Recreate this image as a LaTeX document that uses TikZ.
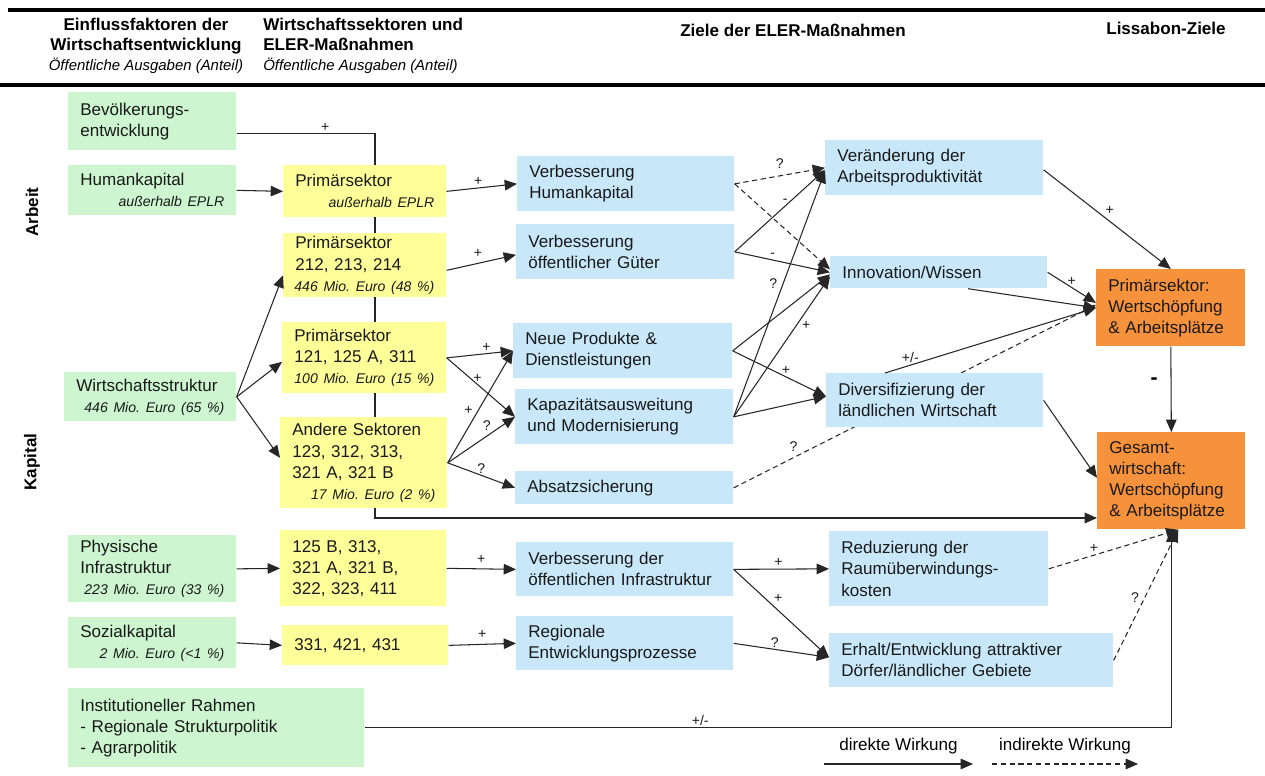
\documentclass[tikz,border=0pt]{standalone}
\usepackage{fontspec}
\setmainfont{Liberation Sans}
\usetikzlibrary{arrows.meta,calc,backgrounds}

\definecolor{gruen}{RGB}{204,245,208}
\definecolor{gelb}{RGB}{255,255,153}
\definecolor{blau}{RGB}{200,232,250}
\definecolor{lorange}{RGB}{247,146,60}

\hyphenpenalty=10000
\exhyphenpenalty=10000
\frenchspacing

\newcommand{\rechts}[1]{\hbox to\hsize{\hss\itshape\fontsize{8}{11}\selectfont #1}}

\tikzset{
   kasten/.style={rectangle, anchor=north west, inner xsep=0.24cm, inner ysep=0pt,
      align=left, text=black!90, font=\fontsize{9.7}{12}\selectfont},
   einfluss/.style={kasten, fill=gruen},
   sektor/.style={kasten, fill=gelb},
   ziel/.style={kasten, fill=blau},
   lissabon/.style={kasten, fill=lorange},
   kopf/.style={font=\bfseries\fontsize{9.7}{11.5}\selectfont, inner sep=0pt},
   pfeil/.style={draw=black!85, line width=0.6pt, -{Triangle[length=7pt,width=6pt]}},
   indirekt/.style={pfeil, dash pattern=on 3pt off 2pt},
   zeichen/.style={font=\fontsize{8}{9}\selectfont, inner sep=1pt, text=black!90}
}

\begin{document}
\begin{tikzpicture}[x=0.02cm, y=-0.02cm]
            \useasboundingbox (0,0) rectangle (1265,775);
            \begin{scope}[on background layer]
               \fill[white] (0,0) rectangle (1265,775);
            \end{scope}

            \draw [line width=2.3pt] (8,10) -- (1265,10);
            \draw [line width=2.3pt] (0,85) -- (1265,85);

            \node[kopf, align=center] (einfl) at (146,46)
               {Einflussfaktoren der\\Wirtschaftsentwicklung\\{\mdseries\itshape\fontsize{8.5}{10}\selectfont Öffentliche Ausgaben (Anteil)}};
            \node[kopf, align=left, anchor=west] (sekt) at (263,46)
               {Wirtschaftssektoren und\\ELER-Maßnahmen\\{\mdseries\itshape\fontsize{8.5}{10}\selectfont Öffentliche Ausgaben (Anteil)}};
            \node[kopf] (ziele) at (793,30) {Ziele der ELER-Maßnahmen};
            \node[kopf] (lissa) at (1166,28) {Lissabon-Ziele};

            \node[kopf, rotate=90] (arbeit) at (32,212) {Arbeit};
            \node[kopf, rotate=90] (kapital) at (32,462) {Kapital};

            \node[einfluss, minimum width=3.36cm, minimum height=1.16cm, text width=2.88cm] (bev) at (68,92)
               {Bevölkerungs-\\entwicklung};
            \node[einfluss, minimum width=3.36cm, minimum height=1.0cm, text width=2.88cm] (hk) at (68,165)
               {Humankapital\\\rechts{außerhalb EPLR}};
            \node[einfluss, minimum width=3.44cm, minimum height=0.98cm, text width=2.96cm] (ws) at (64,372)
               {Wirtschaftsstruktur\\\rechts{446 Mio. Euro (65 \%)}};
            \node[einfluss, minimum width=3.36cm, minimum height=1.34cm, text width=2.88cm] (phys) at (68,535)
               {Physische\\Infrastruktur\\\rechts{223 Mio. Euro (33 \%)}};
            \node[einfluss, minimum width=3.36cm, minimum height=1.02cm, text width=2.88cm] (sozial) at (68,617)
               {Sozialkapital\\\rechts{2 Mio. Euro (<1 \%)}};
            \node[einfluss, minimum width=5.92cm, minimum height=1.58cm, text width=5.44cm] (inst) at (68,688)
               {Institutioneller Rahmen\\- Regionale Strukturpolitik\\- Agrarpolitik};

            \node[sektor, minimum width=3.26cm, minimum height=1.04cm, text width=2.78cm] (p1) at (283,165)
               {Primärsektor\\\rechts{außerhalb EPLR}};
            \node[sektor, minimum width=3.26cm, minimum height=1.28cm, text width=2.78cm] (p2) at (283,233)
               {Primärsektor\\212, 213, 214\\\rechts{446 Mio. Euro (48 \%)}};
            \node[sektor, minimum width=3.28cm, minimum height=1.42cm, text width=2.80cm] (p3) at (282,322)
               {Primärsektor\\121, 125 A, 311\\\rechts{100 Mio. Euro (15 \%)}};
            \node[sektor, minimum width=3.34cm, minimum height=1.82cm, text width=2.86cm] (andere) at (280,417)
               {Andere Sektoren\\123, 312, 313,\\321 A, 321 B\\\rechts{17 Mio. Euro (2 \%)}};
            \node[sektor, minimum width=3.32cm, minimum height=1.52cm, text width=2.84cm] (b125) at (280,530)
               {125 B, 313,\\321 A, 321 B,\\322, 323, 411};
            \node[sektor, minimum width=3.32cm, minimum height=0.80cm, text width=2.84cm] (s331) at (282,625)
               {331, 421, 431};

            \node[ziel, minimum width=4.34cm, minimum height=1.10cm, text width=3.86cm] (vhk) at (517,156)
               {Verbesserung\\Humankapital};
            \node[ziel, minimum width=4.36cm, minimum height=1.10cm, text width=3.88cm] (vog) at (516,224)
               {Verbesserung\\öffentlicher Güter};
            \node[ziel, minimum width=4.38cm, minimum height=1.10cm, text width=3.90cm] (neue) at (513,323)
               {Neue Produkte \&\\Dienstleistungen};
            \node[ziel, minimum width=4.36cm, minimum height=1.10cm, text width=3.88cm] (kap) at (515,389)
               {Kapazitätsausweitung\\und Modernisierung};
            \node[ziel, minimum width=4.36cm, minimum height=0.66cm, text width=3.88cm] (absatz) at (515,471)
               {Absatzsicherung};
            \node[ziel, minimum width=4.34cm, minimum height=1.08cm, text width=3.86cm] (vinfra) at (516,542)
               {Verbesserung der\\öffentlichen Infrastruktur};
            \node[ziel, minimum width=4.34cm, minimum height=1.08cm, text width=3.86cm] (regio) at (516,616)
               {Regionale\\Entwicklungsprozesse};

            \node[ziel, minimum width=4.36cm, minimum height=1.10cm, text width=3.88cm] (veraend) at (825,140)
               {Veränderung der\\Arbeitsproduktivität};
            \node[ziel, minimum width=4.34cm, minimum height=0.64cm, text width=3.86cm] (innov) at (830,256)
               {Innovation/Wissen};
            \node[ziel, minimum width=4.34cm, minimum height=1.08cm, text width=3.86cm] (divers) at (826,373)
               {Diversifizierung der\\ländlichen Wirtschaft};
            \node[ziel, minimum width=4.38cm, minimum height=1.50cm, text width=3.90cm] (reduz) at (829,531)
               {Reduzierung der\\Raumüberwindungs-\\kosten};
            \node[ziel, minimum width=5.68cm, minimum height=1.08cm, text width=5.20cm] (erhalt) at (829,633)
               {Erhalt/Entwicklung attraktiver\\Dörfer/ländlicher Gebiete};

            \node[lissabon, minimum width=2.98cm, minimum height=1.54cm, text width=2.50cm] (prim) at (1096,269)
               {Primärsektor:\\Wertschöpfung\\\& Arbeitsplätze};
            \node[lissabon, minimum width=2.96cm, minimum height=1.94cm, text width=2.48cm] (gesamt) at (1097,432)
               {Gesamt-\\wirtschaft:\\Wertschöpfung\\\& Arbeitsplätze};

            \coordinate (knick) at (375,518);
            \begin{scope}[on background layer]
               \draw[pfeil] ($(bev.east)+(0,12)$) -| node[zeichen,above,pos=.32]{+} (knick)
                  -- (knick -| gesamt.west);
               \draw[indirekt] (absatz.east) -- node[zeichen,above=2pt,pos=.165]{?} ($(prim.west)+(0,-3)$);
            \end{scope}

            \draw[pfeil] (hk.east) -- (p1.west);
            \draw[pfeil] (ws.east) -- ($(p2.west)+(0,10)$);
            \draw[pfeil] (ws.east) -- ($(p3.west)+(0,4)$);
            \draw[pfeil] (ws.east) -- ($(andere.west)+(0,-5)$);
            \draw[pfeil] (phys.east) -- (b125.west);
            \draw[pfeil] (sozial.east) -- (s331.west);

            \draw[pfeil] (p1.east) -- node[zeichen,above,pos=.45]{+} (vhk.west);
            \draw[pfeil] ($(p2.east)+(0,5)$) -- node[zeichen,above=2pt,pos=.45]{+} ($(vog.west)+(0,3)$);
            \draw[pfeil] (p3.east) -- node[zeichen,above,pos=.6]{+} (neue.west);
            \draw[pfeil] (p3.east) -- node[zeichen,above,pos=.45]{+} (kap.west);
            \draw[pfeil] (andere.east) -- node[zeichen,left=2pt,pos=.47]{+} (neue.west);
            \draw[pfeil] (andere.east) -- node[zeichen,above=2pt,pos=.58]{?} (kap.west);
            \draw[pfeil] (andere.east) -- node[zeichen,above,pos=.5]{?} (absatz.west);
            \draw[pfeil] (b125.east) -- node[zeichen,above=2pt,pos=.5]{+} (vinfra.west);
            \draw[pfeil] (s331.east) -- node[zeichen,above=2pt,pos=.5]{+} (regio.west);

            \draw[indirekt] (vhk.east) -- node[zeichen,above=3pt,pos=.5]{?} (veraend.west);
            \draw[indirekt] (vhk.east) -- ($(innov.west)+(0,-3)$);
            \draw[pfeil] (vog.east) -- node[zeichen,above,pos=.56]{-} ($(veraend.west)+(0,2)$);
            \draw[pfeil] (vog.east) -- node[zeichen,above,pos=.4]{-} (innov.west);
            \draw[pfeil] (neue.east) -- ($(innov.west)+(0,2)$);
            \draw[pfeil] (neue.east) -- node[zeichen,above,pos=.57]{+} ($(divers.west)+(0,-4)$);
            \draw[pfeil] (kap.east) -- node[zeichen,left=2pt,pos=.54]{?} ($(veraend.west)+(0,3)$);
            \draw[pfeil] (kap.east) -- node[zeichen,right=2pt,pos=.65]{+} ($(innov.west)+(0,4)$);
            \draw[pfeil] (kap.east) -- ($(divers.west)+(0,-4)$);
            \draw[pfeil] (vinfra.east) -- node[zeichen,above,pos=.47]{+} (reduz.west);
            \draw[pfeil] (vinfra.east) -- node[zeichen,above right,pos=.4]{+} ($(erhalt.west)+(0,-3)$);
            \draw[pfeil] (regio.east) -- node[zeichen,above,pos=.43]{?} ($(erhalt.west)+(0,-3)$);

            \draw[pfeil] ($(veraend.east)+(0,2)$) -- node[zeichen,above right,pos=.47]{+} (prim.north);
            \draw[pfeil] (innov.east) -- node[zeichen,above,pos=.5]{+} ($(prim.west)+(0,-5)$);
            \draw[pfeil] ($(innov.south west)+(138,0)$) -- (prim.west);
            \draw[pfeil] ($(divers.north west)+(59,0)$) -- node[zeichen,above,pos=.12]{+/-} (prim.west);
            \draw[pfeil] (prim.south) -- node[left=4pt,pos=.4,font=\bfseries\fontsize{12}{12}\selectfont]{-} (gesamt.north);
            \draw[pfeil] (divers.east) -- ($(gesamt.west)+(0,-3)$);
            \draw[indirekt] (reduz.east) -- node[zeichen,above,pos=.35]{+} ($(gesamt.south)+(7,0)$);
            \draw[indirekt] (erhalt.east) -- node[zeichen,left=2pt,pos=.48]{?} ($(gesamt.south)+(7,0)$);
            \draw[pfeil] (inst.east) -| node[zeichen,above,pos=.208]{+/-} (gesamt.south);

            \coordinate (d1) at (824,764);
            \coordinate (d2) at (973,764);
            \coordinate (i1) at (992,764);
            \coordinate (i2) at (1138,764);
            \draw[pfeil] (d1) -- node[above=2pt, font=\fontsize{9.7}{12}\selectfont]{direkte Wirkung} (d2);
            \draw[indirekt] (i1) -- node[above=2pt, font=\fontsize{9.7}{12}\selectfont]{indirekte Wirkung} (i2);
         \end{tikzpicture}
\end{document}
